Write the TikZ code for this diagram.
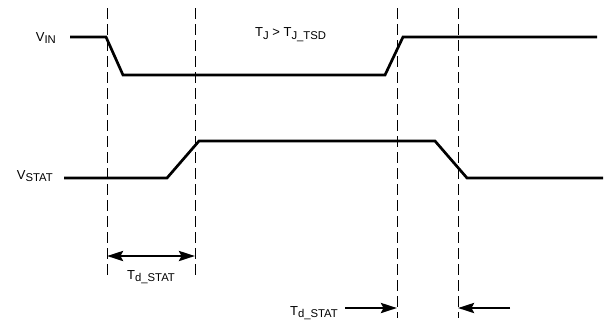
\documentclass[tikz,border=0pt]{standalone}
\usepackage{fontspec}
\setmainfont{Liberation Sans}
\usetikzlibrary{arrows.meta}
\newcommand{\sbs}[1]{\raisebox{-2.6pt}{\fontsize{11.3}{12}\selectfont #1}}
\tikzset{
  sig/.style={line width=2.7pt, line join=miter},
  guide/.style={line width=0.9pt, dash pattern=on 11pt off 5pt},
  lbl/.style={inner sep=0pt, font=\fontsize{13}{15}\selectfont},
  tip/.tip={Stealth[length=16pt,width=10pt,inset=2.5pt]},
  dim/.style={line width=2.7pt, -tip},
  dimboth/.style={line width=2.7pt, tip-tip}
}
\begin{document}
\begin{tikzpicture}[x=1pt,y=-1pt]
\useasboundingbox (0,0) rectangle (605,322);
% guide lines
\draw[guide] (107,8) -- (107,279);
\draw[guide] (195,8) -- (195,279);
\draw[guide] (397,8) -- (397,318);
\draw[guide] (458,8) -- (458,318);
% VIN waveform
\draw[sig] (70,37) -- (106,37) -- (123,75) -- (385,75) -- (403,37) -- (597,37);
% VSTAT waveform
\draw[sig] (64,178) -- (167,178) -- (199,141) -- (435,141) -- (467,178) -- (603,178);
% labels
\node[lbl, anchor=base east] (vin) at (56,41) {V\sbs{IN}};
\node[lbl, anchor=base east] (vstat) at (53,179) {V\sbs{STAT}};
\node[lbl, anchor=base west] (tj) at (255,36.5) {T\sbs{J} > T\sbs{J\_TSD}};
\node[lbl, anchor=base] (td1) at (151,279) {T\sbs{d\_STAT}};
\node[lbl, anchor=base east] (td2) at (338,315) {T\sbs{d\_STAT}};
% dimension arrows
\coordinate (a1) at (107,256);
\coordinate (a2) at (195,256);
\draw[dimboth] (a1) -- (a2);
\coordinate (b0) at (345,308);
\coordinate (b1) at (397,308);
\draw[dim] (b0) -- (b1);
\coordinate (c0) at (510,308);
\coordinate (c1) at (458,308);
\draw[dim] (c0) -- (c1);
\end{tikzpicture}
\end{document}
